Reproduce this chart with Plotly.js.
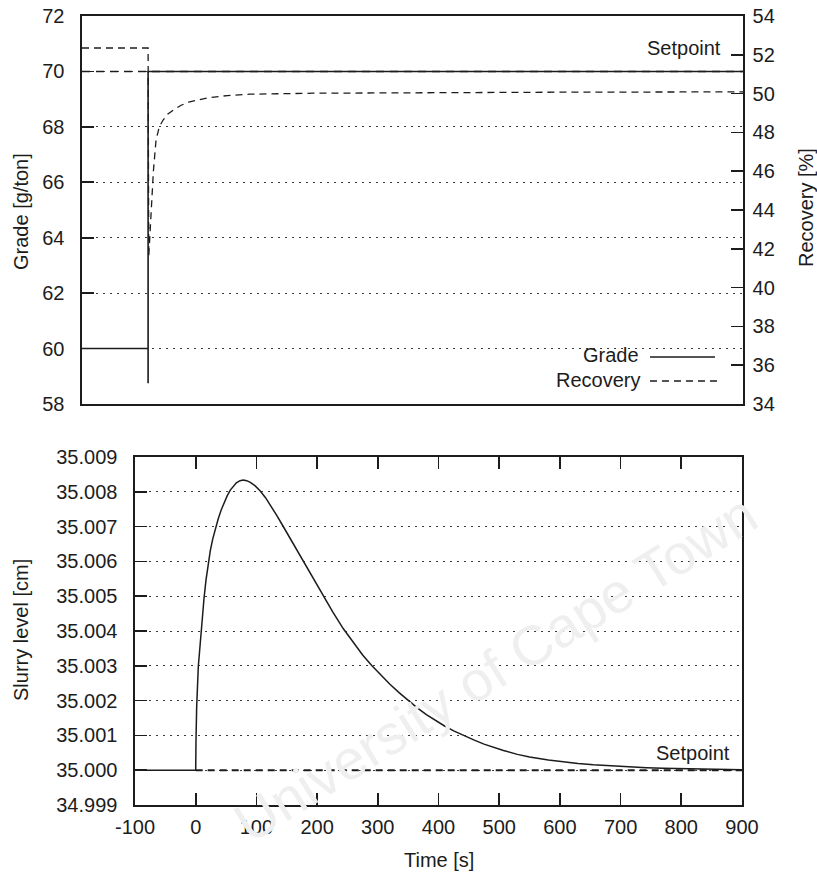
<!DOCTYPE html>
<html>
<head>
<meta charset="utf-8">
<script src="https://cdn.plot.ly/plotly-3.0.1.min.js"></script>
<style>
html,body{margin:0;padding:0;background:#fff;}
#chart{width:817px;height:874px;}
</style>
</head>
<body>
<div id="chart"></div>
<script>
// ---- Top panel: grade (left axis) and recovery (right axis) ----
const gradeTime = [-100, 0, 0, 0, 900];
const gradeValue = [60, 60, 58.75, 70, 70];

const gradeSetpointTime = [-100, 900];
const gradeSetpointValue = [70, 70];

const recoveryTime = [-100, 0, 1, 4, 8, 12, 17, 23, 30, 38, 50, 63, 80, 94, 120, 154, 250, 400, 600, 900];
const recoveryValue = [52.35, 52.35, 41.6, 43.5, 46.0, 47.6, 48.3, 48.65, 48.95, 49.15, 49.4, 49.58, 49.7, 49.8, 49.9, 49.97, 50.02, 50.05, 50.07, 50.09];

// ---- Bottom panel: slurry level ----
const slurryTime = [-100, 0, 0.5, 1.6, 4.3, 8.7, 13.7, 17, 20.8, 24, 28, 32, 37, 42, 47, 52, 57, 62, 67, 73, 78.5, 84, 90, 98, 106, 115, 125, 134, 144, 160, 177, 195, 210, 226, 243, 260, 275, 290, 305, 320, 335, 348, 365, 380, 395, 410, 425, 441, 458, 475, 490, 507, 530, 550, 581, 605, 630, 655, 679, 710, 743, 770, 800, 850, 900];
const slurryLevel = [35.00000, 35.00000, 35.00086, 35.00182, 35.00298, 35.00399, 35.00494, 35.00547, 35.00596, 35.00630, 35.00664, 35.00692, 35.00722, 35.00748, 35.00770, 35.00789, 35.00805, 35.00817, 35.00826, 35.00832, 35.00834, 35.00832, 35.00827, 35.00817, 35.00803, 35.00783, 35.00757, 35.00731, 35.00701, 35.00652, 35.00600, 35.00545, 35.00500, 35.00454, 35.00407, 35.00365, 35.00331, 35.00301, 35.00273, 35.00247, 35.00223, 35.00203, 35.00179, 35.00160, 35.00143, 35.00127, 35.00113, 35.00100, 35.00087, 35.00075, 35.000655, 35.000565, 35.000455, 35.00038, 35.00029, 35.000237, 35.000193, 35.000157, 35.000129, 35.000097, 35.000072, 35.000056, 35.000042, 35.000026, 35.000016];

const slurrySetpointTime = [0, 900];
const slurrySetpointValue = [35.000, 35.000];

// tick settings
const gradeTicks = [58, 60, 62, 64, 66, 68, 70, 72];
const recoveryTicks = [34, 36, 38, 40, 42, 44, 46, 48, 50, 52, 54];
const timeTicks = [-100, 0, 100, 200, 300, 400, 500, 600, 700, 800, 900];
const slurryTicks = [34.999, 35.000, 35.001, 35.002, 35.003, 35.004, 35.005, 35.006, 35.007, 35.008, 35.009];

const W = 817, H = 874;
const px = v => v / W;
const py = v => 1 - v / H;
const ink = '#1c1c1c';
const FONT = 'Liberation Sans, Arial, Helvetica, sans-serif';
const fs = 20;

const traces = [
  {x: gradeSetpointTime, y: gradeSetpointValue, xaxis: 'x', yaxis: 'y', mode: 'lines',
   line: {color: ink, width: 1.6, dash: '8px,6px'}, name: 'Setpoint', showlegend: false, hoverinfo: 'skip'},
  {x: recoveryTime, y: recoveryValue, xaxis: 'x', yaxis: 'y2', mode: 'lines',
   line: {color: ink, width: 1.3, dash: '7px,5px'}, name: 'Recovery', showlegend: false},
  {x: gradeTime, y: gradeValue, xaxis: 'x', yaxis: 'y', mode: 'lines',
   line: {color: ink, width: 1.6}, name: 'Grade', showlegend: false},
  {x: slurrySetpointTime, y: slurrySetpointValue, xaxis: 'x2', yaxis: 'y3', mode: 'lines',
   line: {color: ink, width: 2, dash: '7px,5px'}, name: 'Setpoint', showlegend: false},
  {x: slurryTime, y: slurryLevel, xaxis: 'x2', yaxis: 'y3', mode: 'lines',
   line: {color: ink, width: 1.5}, name: 'Slurry level', showlegend: false}
];

const axBase = {
  showline: true, linecolor: ink, linewidth: 1.6, zeroline: false,
  tickfont: {family: FONT, size: fs, color: ink}, tickcolor: ink
};

function note(text, x, y, opts) {
  return Object.assign({text: text, xref: 'paper', yref: 'paper', x: px(x), y: py(y),
    xanchor: 'center', yanchor: 'middle', showarrow: false,
    font: {family: FONT, size: fs, color: ink}}, opts || {});
}

const layout = {
  width: W, height: H,
  margin: {l: 0, r: 0, t: 0, b: 0},
  paper_bgcolor: '#fff', plot_bgcolor: '#fff',
  font: {family: FONT, size: fs, color: ink},
  showlegend: false,
  xaxis: Object.assign({}, axBase, {
    domain: [px(82), px(743)], range: [-100, 900], anchor: 'y',
    showticklabels: false, ticks: '', mirror: true, showgrid: false
  }),
  yaxis: Object.assign({}, axBase, {
    domain: [py(404), py(16)], range: [58, 72], anchor: 'x',
    tickmode: 'array', tickvals: gradeTicks, ticktext: gradeTicks.map(String),
    ticks: 'inside', ticklen: 12, tickwidth: 1.6, ticklabelstandoff: 12,
    showgrid: true, gridcolor: '#3a3a3a', gridwidth: 1, griddash: '2px,5px'
  }),
  yaxis2: Object.assign({}, axBase, {
    range: [34, 54], overlaying: 'y', side: 'right', anchor: 'x',
    tickmode: 'array', tickvals: recoveryTicks, ticktext: recoveryTicks.map(String),
    ticks: 'inside', ticklen: 12, tickwidth: 1.6, ticklabelstandoff: 4,
    showgrid: false
  }),
  xaxis2: Object.assign({}, axBase, {
    domain: [px(135), px(742)], range: [-100, 900], anchor: 'y3',
    tickmode: 'array', tickvals: timeTicks, ticktext: timeTicks.map(String),
    ticks: 'inside', ticklen: 12, tickwidth: 1.6, mirror: 'ticks', ticklabelstandoff: 3,
    showgrid: false
  }),
  yaxis3: Object.assign({}, axBase, {
    domain: [py(805), py(457)], range: [34.999, 35.009], anchor: 'x2',
    tickmode: 'array', tickvals: slurryTicks, ticktext: slurryTicks.map(v => v.toFixed(3)),
    ticks: 'inside', ticklen: 12, tickwidth: 1.6, mirror: true, ticklabelstandoff: 12,
    showgrid: true, gridcolor: '#3a3a3a', gridwidth: 1, griddash: '2px,5px'
  }),
  annotations: [
    note('University of Cape Town', 495, 668, {textangle: -32, font: {family: FONT, size: 56, color: '#efefef'}}),
    note('Grade [g/ton]', 21, 212, {textangle: -90}),
    note('Recovery [%]', 806, 208, {textangle: -90}),
    note('Slurry level [cm]', 21, 630, {textangle: -90}),
    note('Time [s]', 439, 860),
    note('Setpoint', 723, 48, {xanchor: 'right'}),
    note('Setpoint', 732, 753, {xanchor: 'right'}),
    note('Grade', 641, 355, {xanchor: 'right'}),
    note('Recovery', 642, 380, {xanchor: 'right'})
  ],
  shapes: [
    {type: 'line', xref: 'paper', yref: 'paper', x0: px(650), x1: px(715), y0: py(357), y1: py(357),
     line: {color: ink, width: 1.6}},
    {type: 'line', xref: 'paper', yref: 'paper', x0: px(650), x1: px(717), y0: py(381), y1: py(381),
     line: {color: ink, width: 1.3, dash: '7px,5px'}}
  ]
};

Plotly.newPlot('chart', traces, layout, {displayModeBar: false, staticPlot: true});
</script>
</body>
</html>
